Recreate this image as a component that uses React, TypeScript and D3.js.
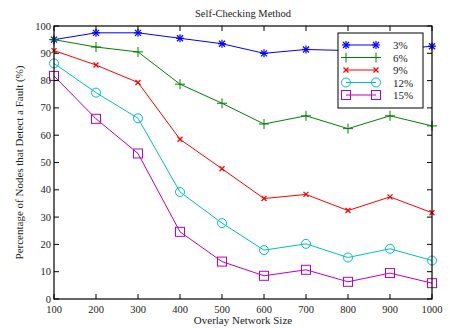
import React from 'react';
import * as d3 from 'd3';

const sizes = [100, 200, 300, 400, 500, 600, 700, 800, 900, 1000];
const p3 = [95, 97.5, 97.5, 95.5, 93.5, 90, 91.4, 91, 91.2, 92.6];
const p6 = [95, 92.3, 90.5, 78.7, 71.7, 64.1, 67.1, 62.4, 67.1, 63.4];
const p9 = [91, 85.7, 79.3, 58.5, 47.7, 36.8, 38.3, 32.4, 37.4, 31.6];
const p12 = [86.3, 75.6, 66.2, 39.2, 27.8, 17.9, 20.2, 15.2, 18.4, 14.1];
const p15 = [81.7, 66, 53.3, 24.6, 13.7, 8.5, 10.7, 6.3, 9.5, 5.8];
const seriesNames = ['3%', '6%', '9%', '12%', '15%'];
const xTicks = [100, 200, 300, 400, 500, 600, 700, 800, 900, 1000];
const yTicks = [0, 10, 20, 30, 40, 50, 60, 70, 80, 90, 100];

const W = 450;
const H = 328;
const margin = { top: 26, right: 18, bottom: 29, left: 54 };
const font = '"Liberation Serif", "Times New Roman", serif';

const series = [
    { name: seriesNames[0], values: p3, color: '#0000ff', marker: 'star' },
    { name: seriesNames[1], values: p6, color: '#008000', marker: 'plus' },
    { name: seriesNames[2], values: p9, color: '#ff0000', marker: 'cross' },
    { name: seriesNames[3], values: p12, color: '#00bfbf', marker: 'circle' },
    { name: seriesNames[4], values: p15, color: '#bf00bf', marker: 'square' },
];

function Marker({ type, x, y, color }: { type: string; x: number; y: number; color: string }) {
    const s = 4;
    if (type === 'star') {
        return (
            <g stroke={color} strokeWidth={1.2}>
                <line x1={x - s} y1={y} x2={x + s} y2={y} />
                <line x1={x} y1={y - s} x2={x} y2={y + s} />
                <line x1={x - 3} y1={y - 3} x2={x + 3} y2={y + 3} />
                <line x1={x - 3} y1={y + 3} x2={x + 3} y2={y - 3} />
            </g>
        );
    }
    if (type === 'plus') {
        return (
            <g stroke={color} strokeWidth={1}>
                <line x1={x - 5} y1={y} x2={x + 5} y2={y} />
                <line x1={x} y1={y - 5} x2={x} y2={y + 5} />
            </g>
        );
    }
    if (type === 'cross') {
        return (
            <g stroke={color} strokeWidth={1.2}>
                <line x1={x - 2.5} y1={y - 2.5} x2={x + 2.5} y2={y + 2.5} />
                <line x1={x - 2.5} y1={y + 2.5} x2={x + 2.5} y2={y - 2.5} />
            </g>
        );
    }
    if (type === 'circle') {
        return <circle cx={x} cy={y} r={4.5} fill="none" stroke={color} strokeWidth={1} />;
    }
    return <rect x={x - 4.5} y={y - 4.5} width={9} height={9} fill="none" stroke={color} strokeWidth={1} />;
}

export default function App() {
    const x = d3.scaleLinear().domain([100, 1000]).range([margin.left, W - margin.right]);
    const y = d3.scaleLinear().domain([0, 100]).range([H - margin.bottom, margin.top]);
    const line = d3
        .line<number>()
        .x((_, i) => x(sizes[i]))
        .y((d) => y(d));

    const x0 = margin.left;
    const x1 = W - margin.right;
    const y0 = H - margin.bottom;
    const y1 = margin.top;

    // legend placement
    const lg = { x: 338, y: 33, w: 85, h: 75 };

    return (
        <svg width={W} height={H} style={{ position: 'absolute', left: 0, top: 0 }} fontFamily={font}>
            <rect width={W} height={H} fill="#fff" />
            <text x={(x0 + x1) / 2} y={17} textAnchor="middle" fontSize={10.5} fill="#222">
                Self-Checking Method
            </text>

            {series.map((s) => (
                <g key={s.name}>
                    <path d={line(s.values) || ''} fill="none" stroke={s.color} strokeWidth={1} />
                    {s.values.map((v, i) => (
                        <Marker key={i} type={s.marker} x={x(sizes[i])} y={y(v)} color={s.color} />
                    ))}
                </g>
            ))}

            {/* ticks */}
            {xTicks.map((t) => (
                <g key={t}>
                    <line x1={x(t)} x2={x(t)} y1={y0} y2={y0 - 5} stroke="#000" />
                    <line x1={x(t)} x2={x(t)} y1={y1} y2={y1 + 5} stroke="#000" />
                    <text x={x(t)} y={y0 + 14} textAnchor="middle" fontSize={10.5} fill="#222">
                        {t}
                    </text>
                </g>
            ))}
            {yTicks.map((t) => (
                <g key={t}>
                    <line x1={x0} x2={x0 + 5} y1={y(t)} y2={y(t)} stroke="#000" />
                    <line x1={x1} x2={x1 - 5} y1={y(t)} y2={y(t)} stroke="#000" />
                    <text x={x0 - 3} y={y(t) + 3.5} textAnchor="end" fontSize={10.5} fill="#222">
                        {t}
                    </text>
                </g>
            ))}
            <rect x={x0} y={y1} width={x1 - x0} height={y0 - y1} fill="none" stroke="#000" strokeWidth={1.2} />

            <text x={(x0 + x1) / 2} y={324} textAnchor="middle" fontSize={11} fill="#222">
                Overlay Network Size
            </text>
            <text
                transform={`translate(23, ${(y0 + y1) / 2}) rotate(-90)`}
                textAnchor="middle"
                fontSize={11}
                fill="#222"
            >
                Percentage of Nodes that Detect a Fault (%)
            </text>

            {/* legend */}
            <rect x={lg.x} y={lg.y} width={lg.w} height={lg.h} fill="#fff" stroke="#000" strokeWidth={1} />
            {series.map((s, i) => {
                const ly = lg.y + 12 + i * 12.5;
                return (
                    <g key={s.name}>
                        <line x1={lg.x + 8} x2={lg.x + 38} y1={ly} y2={ly} stroke={s.color} />
                        <Marker type={s.marker} x={lg.x + 8} y={ly} color={s.color} />
                        <Marker type={s.marker} x={lg.x + 38} y={ly} color={s.color} />
                        <text x={lg.x + 55} y={ly + 4} fontSize={11} fill="#222">
                            {s.name}
                        </text>
                    </g>
                );
            })}
        </svg>
    );
}
